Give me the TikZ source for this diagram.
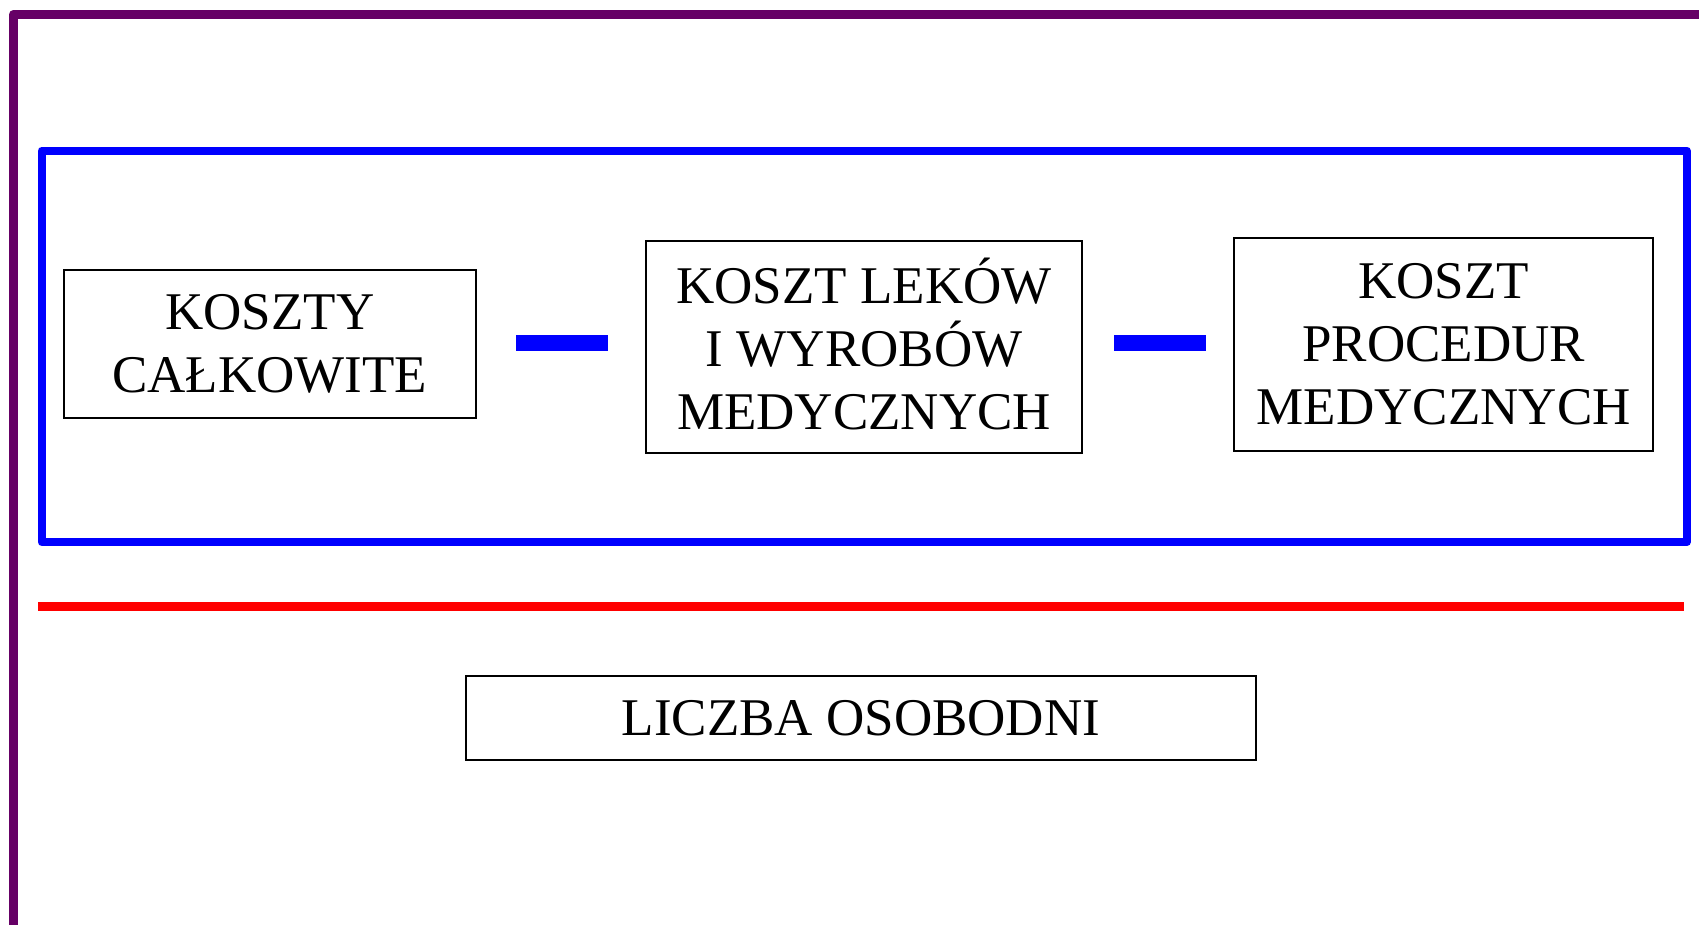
\documentclass[tikz,border=0pt]{standalone}
\usepackage{fontspec}
\setmainfont{Liberation Serif}
\definecolor{framepurple}{RGB}{102,0,102}
\begin{document}
\begin{tikzpicture}[x=1pt,y=-1pt,
  box/.style={draw=black, line width=2pt, align=center, inner sep=0pt, font=\fontsize{53}{63}\selectfont},
  minusbar/.style={fill=blue, draw=none, minimum width=92pt, minimum height=16pt, inner sep=0pt},
]
\useasboundingbox (0,0) rectangle (1699,924);
\clip (0,0) rectangle (1699,924);
\fill[white] (0,0) rectangle (1699,924);
% outer purple frame (open to right and bottom)
\draw[framepurple, line width=9pt, line join=round] (13.7,940) -- (13.7,14.3) -- (1720,14.3);
% blue group frame
\draw[blue, line width=8pt, line join=round] (41.7,150.5) rectangle (1686.7,542.2);
% red fraction line
\draw[red, line width=8.7pt] (38.3,606.7) -- (1684,606.7);
% boxes
\node[box, minimum width=411.8pt, minimum height=148.4pt] (b1) at (269.8,344) {KOSZTY\\CAŁKOWITE};
\node[box, minimum width=436.6pt, minimum height=212.4pt] (b2) at (864.1,346.7) {KOSZT LEKÓW\\I WYROBÓW\\MEDYCZNYCH\rule[-6pt]{0pt}{0pt}};
\node[box, minimum width=419.3pt, minimum height=212.3pt] (b3) at (1443.8,344.6) {KOSZT\\PROCEDUR\\MEDYCZNYCH};
\node[box, minimum width=789.9pt, minimum height=83.4pt] (b4) at (860.9,717.8) {LICZBA OSOBODNI};
% minus signs
\node[minusbar] (m1) at (561.75,343) {};
\node[minusbar] (m2) at (1159.9,343) {};
\end{tikzpicture}
\end{document}
